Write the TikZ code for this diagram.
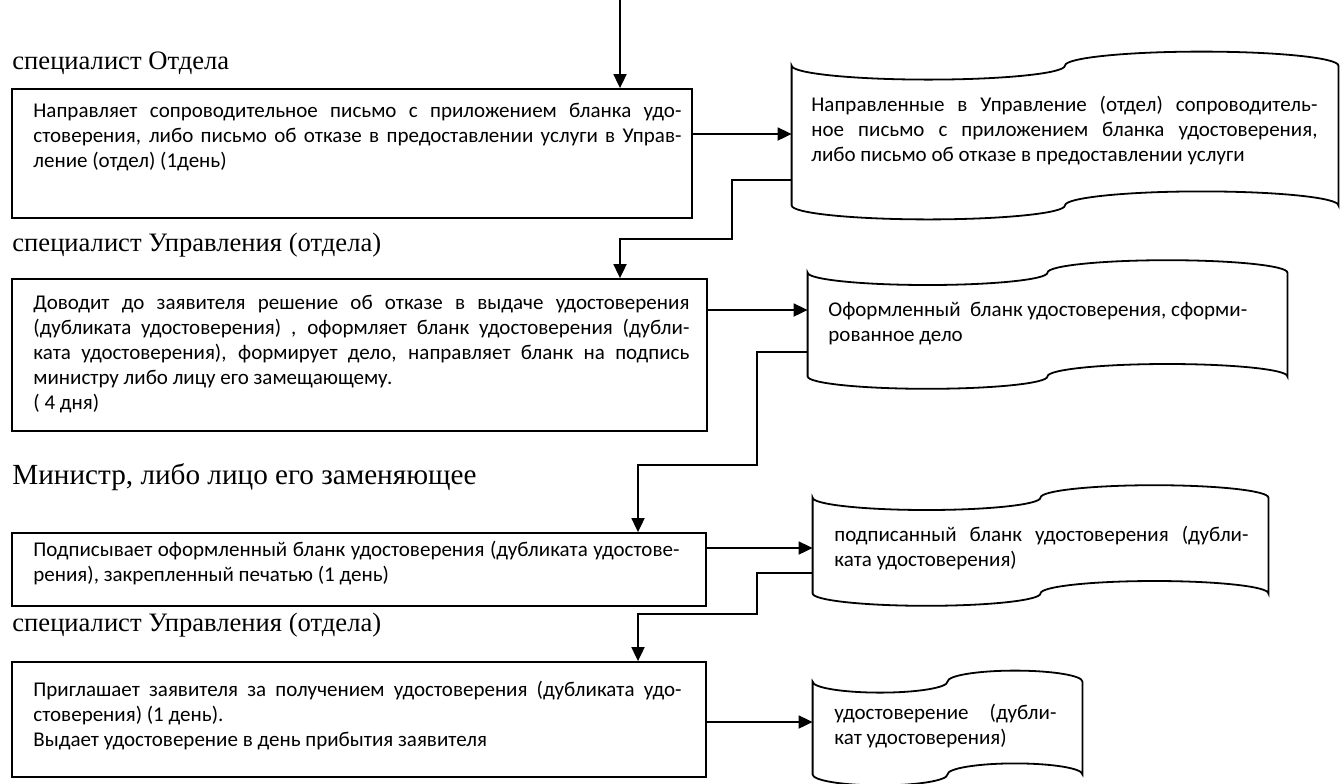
\documentclass[tikz,border=0pt]{standalone}
\usepackage{fontspec}
\setmainfont{Carlito}
\newfontfamily\rolefont{Liberation Serif}
\usetikzlibrary{arrows.meta,fit,calc}
\setlength{\parindent}{0pt}

\begin{document}
\begin{tikzpicture}[x=0.5pt,y=-0.5pt,
  box/.style={draw,line width=0.9pt,inner sep=0pt},
  tape/.style={inner sep=0pt},
  txt/.style={anchor=north west,inner sep=0pt,align=justify,
    font=\fontsize{10.5}{12.5}\selectfont,execute at begin node=\strut},
  role/.style={anchor=west,inner sep=0pt,font=\rolefont\fontsize{13.3}{16}\selectfont},
  arr/.style={line width=0.9pt,-{Triangle[length=7pt,width=6.5pt]}}]
  \useasboundingbox (0,0) rectangle (1343,783);
  % roles
  \node[role] (r1) at (12,63) {специалист Отдела};
  \node[role] (r2) at (12,245) {специалист Управления (отдела)};
  \node[role,font=\rolefont\fontsize{14.6}{17}\selectfont] (r3) at (12,477) {Министр, либо лицо его заменяющее};
  \node[role] (r4) at (12,625) {специалист Управления (отдела)};
  % steps
  \node[box,fit={(12,89) (692,218)}] (b1) {};
  \node[box,fit={(12,279) (707,431)}] (b2) {};
  \node[box,fit={(12,533) (706,606)}] (b3) {};
  \node[box,fit={(12,662) (706,777)}] (b4) {};
  \node[txt,text width=324pt] (t1) at (33,100) {Направляет сопроводительное письмо с приложением бланка удо-\linebreak
    стоверения, либо письмо об отказе в предоставлении услуги в Управ-\linebreak
    ление (отдел) (1день)};
  \node[txt,text width=328pt] (t2) at (33,292) {Доводит до заявителя решение об отказе в выдаче удостоверения\linebreak
    (дубликата удостоверения) , оформляет бланк удостоверения (дубли-\linebreak
    ката удостоверения), формирует дело, направляет бланк на подпись\linebreak
    министру либо лицу его замещающему.\par ( 4 дня)};
  \node[txt,text width=323pt] (t3) at (33,539) {Подписывает оформленный бланк удостоверения (дубликата удостове-\linebreak
    рения), закрепленный печатью (1 день)};
  \node[txt,text width=324pt] (t4) at (33,679) {Приглашает заявителя за получением удостоверения (дубликата удо-\linebreak
    стоверения) (1 день).\par Выдает удостоверение в день прибытия заявителя};
  % documents
  \node[tape,fit={(792,66) (1338,205)}] (d1) {};
  \node[tape,fit={(808,273) (1287,376)}] (d2) {};
  \node[tape,fit={(813,498) (1268,593)}] (d3) {};
  \node[tape,fit={(813,682) (1082,774)}] (d4) {};
  \foreach \d/\a in {d1/7pt,d2/6.2pt,d3/6.2pt,d4/5.5pt}
    \draw[line width=0.9pt] let \p1=(\d.north west),\p2=(\d.south east),\n1={(\x2-\x1)/4} in
      (\p1) arc[start angle=180,end angle=360,x radius=\n1,y radius=\a]
      arc[start angle=180,end angle=0,x radius=\n1,y radius=\a] -- (\x2,\y2)
      arc[start angle=0,end angle=180,x radius=\n1,y radius=\a]
      arc[start angle=0,end angle=-180,x radius=\n1,y radius=\a] -- cycle;
  \node[txt,text width=253pt] (s1) at (811,94) {Направленные в Управление (отдел) сопроводитель-\linebreak
    ное письмо с приложением бланка удостоверения,\linebreak
    либо письмо об отказе в предоставлении услуги};
  \node[txt,text width=230pt] (s2) at (828,299) {Оформленный\ \ бланк удостоверения, сформи-\newline рованное дело};
  \node[txt,text width=207pt] (s3) at (834,524) {подписанный бланк удостоверения (дубли-\linebreak
    ката удостоверения)};
  \node[txt,text width=111pt] (s4) at (834,702) {удостоверение (дубли-\linebreak кат удостоверения)};
  % connectors
  \coordinate (in) at (620,0);
  \draw[arr] (in) -- (in |- b1.north);
  \foreach \b/\d/\y in {b1/d1/134,b2/d2/310,b3/d3/548,b4/d4/722}
    \draw[arr] (\b.east |- 0,\y) -- (\d.west |- 0,\y);
  \foreach \d/\y/\xm/\ym/\b/\xb in {d1/180/732/239/b2/620,d2/352/757/465/b3/638,d3/573/757/614/b4/638}
    \draw[arr] (\d.west |- 0,\y) -| (\xm,\ym) -| (\b.north -| \xb,0);
\end{tikzpicture}
\end{document}
